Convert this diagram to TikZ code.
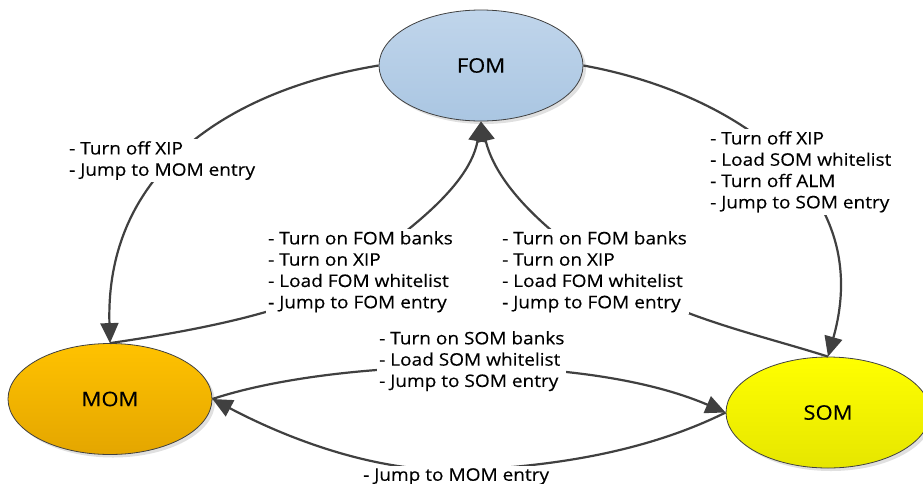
\documentclass[tikz,border=0pt]{standalone}
\usepackage{fontspec}
\setmainfont{Open Sans}[FakeStretch=1.1,FakeBold=0.25]
\usetikzlibrary{shapes.geometric,arrows.meta,shadows}

\definecolor{edge}{HTML}{404040}
\definecolor{fomtop}{RGB}{192,213,235}
\definecolor{fombot}{RGB}{170,198,226}
\definecolor{momtop}{RGB}{255,194,0}
\definecolor{mombot}{RGB}{228,166,0}
\definecolor{somtop}{RGB}{255,255,0}
\definecolor{sombot}{RGB}{230,230,0}

\begin{document}
\begin{tikzpicture}[x=1pt,y=-1pt,
  state/.style={ellipse, draw=edge, line width=0.8pt,
    minimum width=204pt, minimum height=111pt, inner sep=0pt,
    font=\fontsize{20}{22}\selectfont,
    drop shadow={shadow xshift=3pt, shadow yshift=-3pt, fill=black, opacity=0.12}},
  conn/.style={draw=edge, line width=2.2pt, -{Triangle[length=20pt,width=18pt]}},
  lbl/.style={fill=white, inner sep=2pt, align=left, anchor=north west,
    font=\fontsize{17.3}{21.3}\selectfont}]

\useasboundingbox (0,0) rectangle (923,483);
\fill[white] (0,0) rectangle (923,483);

% states
\node[state, top color=fomtop, bottom color=fombot] (fom) at (481,65.5) {FOM};
\node[state, top color=momtop, bottom color=mombot] (mom) at (110,399) {MOM};
\node[state, top color=somtop, bottom color=sombot] (som) at (828,412.5) {SOM};

% transitions
\draw[conn] (fom.west) .. controls (230,90) and (105,170) .. (mom.north);
\draw[conn] (fom.east) .. controls (720,90) and (878,180) .. (som.north);
\draw[conn] (mom.north) .. controls (200,330) and (300,310) .. (340,280)
            .. controls (380,250) and (468,195) .. (fom.south);
\draw[conn] (som.north) .. controls (760,335) and (680,318) .. (620,280)
            .. controls (580,255) and (500,200) .. (fom.south);
\draw[conn] (mom.east) .. controls (330,360) and (580,350) .. (som.west);
\draw[conn] (som.west) .. controls (650,450) and (560,466) .. (466,470)
            .. controls (380,474) and (290,440) .. (mom.east);

% transition actions
\node[lbl] (l1) at (67,139) {- Turn off XIP\\- Jump to MOM entry};
\node[lbl] (l2) at (708,129) {- Turn off XIP\\- Load SOM whitelist\\- Turn off ALM\\- Jump to SOM entry};
\node[lbl] (l3) at (266,229) {- Turn on FOM banks\\- Turn on XIP\\- Load FOM whitelist\\- Jump to FOM entry};
\node[lbl] (l4) at (500,229) {- Turn on FOM banks\\- Turn on XIP\\- Load FOM whitelist\\- Jump to FOM entry};
\node[lbl] (l5) at (377,329) {- Turn on SOM banks\\- Load SOM whitelist\\- Jump to SOM entry};
\node[lbl] (l6) at (361,466) {- Jump to MOM entry};
\end{tikzpicture}
\end{document}
